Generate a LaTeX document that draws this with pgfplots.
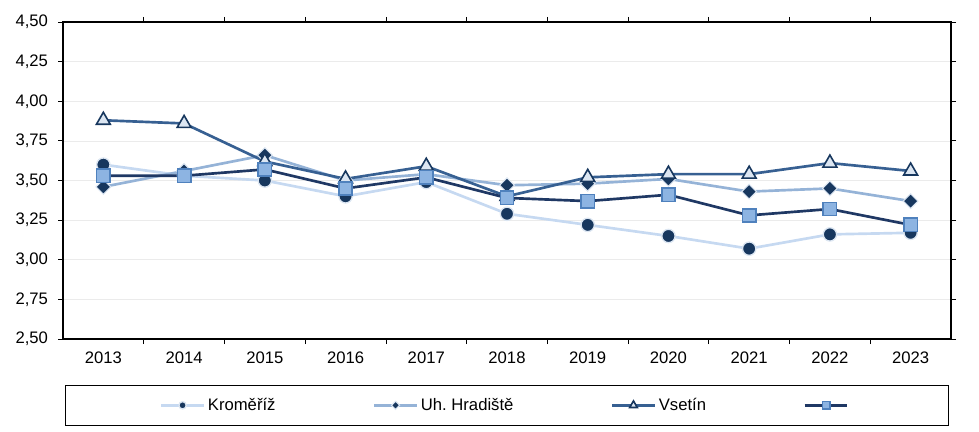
\documentclass[border=0pt]{standalone}
\usepackage{pgfplots}
\pgfplotsset{compat=1.18}
\usepackage{pgfplotstable}
\usepackage{fontspec}
\setmainfont{Liberation Sans}
\definecolor{kline}{HTML}{C6D9F1}
\definecolor{navy}{HTML}{17375E}
\definecolor{halo}{HTML}{DCE6F2}
\definecolor{uline}{HTML}{95B3D7}
\definecolor{vline}{HTML}{376092}
\definecolor{sline}{HTML}{1F3864}
\definecolor{sfill}{HTML}{8DB4E2}
\definecolor{sedge}{HTML}{4F81BD}
\pgfplotstableread{
x K U V S
0 3.60 3.46 3.88 3.53
1 3.53 3.56 3.86 3.53
2 3.50 3.66 3.62 3.57
3 3.40 3.50 3.51 3.45
4 3.49 3.54 3.59 3.52
5 3.29 3.47 3.40 3.39
6 3.22 3.48 3.52 3.37
7 3.15 3.51 3.54 3.41
8 3.07 3.43 3.54 3.28
9 3.16 3.45 3.61 3.32
10 3.17 3.37 3.56 3.22
}\data
\begin{document}
\begin{tikzpicture}
\begin{axis}[
  scale only axis,
  width=666pt, height=237.75pt,
  xmin=-0.5, xmax=10.5, ymin=2.5, ymax=4.5,
  xtick={0,...,10},
  xticklabels={2013,2014,2015,2016,2017,2018,2019,2020,2021,2022,2023},
  major x tick style={draw=none},
  minor xtick={0.5,1.5,...,9.5},
  ytick={2.5,2.75,3,3.25,3.5,3.75,4,4.25,4.5},
  tick align=outside,
  major tick length=3.75pt, minor tick length=3.75pt,
  tick style={black, line width=0.6pt},
  ymajorgrids,
  grid style={color=black!8, line width=0.5pt},
  axis line style={black, line width=1.2pt},
  yticklabel style={/pgf/number format/fixed, /pgf/number format/fixed zerofill, /pgf/number format/precision=2, /pgf/number format/use comma, /pgf/number format/assume math mode=true, xshift=-4pt},
  ticklabel style={font=\fontsize{12.5}{15}\selectfont},
  xticklabel style={yshift=-2pt},
  legend columns=4,
  legend style={at={(0.5,0)}, anchor=north, yshift=-34.5pt, draw=black, line width=0.75pt,
    font=\fontsize{12.5}{15}\selectfont, inner xsep=70.75pt, inner ysep=7.5pt,
    /tikz/every even column/.append style={column sep=71pt},
    /tikz/every odd column/.append style={column sep=0pt},
    nodes={inner xsep=2pt}},
  legend image code/.code={
    \draw[#1, mark=none] (0pt,0pt) -- (32pt,0pt);
    \draw[#1, only marks, every mark/.append style={scale=0.55}] plot coordinates {(16pt,0pt)};
  },
]
\addplot[kline, line width=2pt, mark=*, mark size=5pt, mark options={fill=navy, draw=halo, line width=1pt}] table[x=x,y=K]{\data};
\addlegendentry{Kroměříž}
\addplot[uline, line width=2pt, mark=square*, mark size=3.9pt, mark options={rotate=45, fill=navy, draw=halo, line width=0.8pt}] table[x=x,y=U]{\data};
\addlegendentry{Uh.\ Hradiště}
\addplot[vline, line width=2pt, mark=triangle*, mark size=6pt, mark options={fill=halo, draw=navy, line width=1.2pt}] table[x=x,y=V]{\data};
\addlegendentry{Vsetín}
\addplot[sline, line width=2pt, mark=square*, mark size=5pt, mark options={fill=sfill, draw=sedge, line width=1.2pt}] table[x=x,y=S]{\data};
\addlegendentry{}
\coordinate (BL) at (rel axis cs:0,0);
\coordinate (TR) at (rel axis cs:1,1);
\end{axis}
\pgfresetboundingbox
\path ([xshift=-47.25pt,yshift=-69.75pt]BL) rectangle ([xshift=21pt,yshift=16.5pt]TR);
\end{tikzpicture}
\end{document}
